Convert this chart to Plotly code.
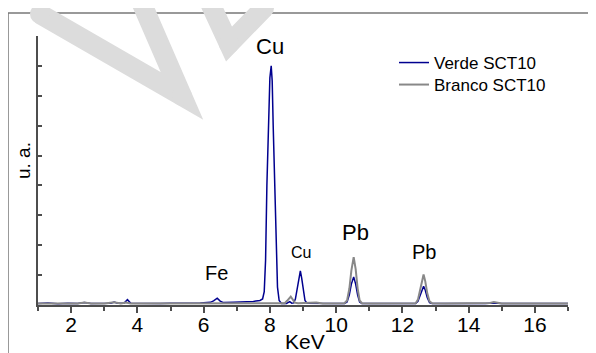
import plotly.graph_objects as go

# ---- data (keV, arbitrary units) ----
verde_kev = [1.0, 1.3, 1.6, 1.9, 2.2, 2.4, 2.6, 2.9, 3.2, 3.3, 3.4, 3.6, 3.7, 3.8,
             4.1, 4.4, 4.7, 5.0, 5.3, 5.6, 5.9, 6.2, 6.3, 6.41, 6.5, 6.6, 6.9, 7.2,
             7.5, 7.7, 7.78, 7.83, 7.87, 7.91, 7.96, 8.00, 8.04, 8.07, 8.10, 8.14,
             8.19, 8.23, 8.28, 8.35, 8.50, 8.60, 8.66, 8.72, 8.77, 8.82, 8.87, 8.92,
             8.96, 9.01, 9.06, 9.12, 9.4, 9.7, 10.0, 10.25, 10.33, 10.40, 10.46,
             10.53, 10.59, 10.65, 10.71, 10.78, 11.1, 11.5, 11.9, 12.2, 12.40, 12.47,
             12.54, 12.60, 12.64, 12.69, 12.75, 12.82, 12.90, 13.3, 13.7, 14.1, 14.5,
             14.76, 15.0, 15.5, 16.0, 16.5, 17.0]
verde_counts = [0.05, 0.07, 0.04, 0.06, 0.05, 0.08, 0.05, 0.06, 0.06, 0.10, 0.06, 0.07, 0.18, 0.06,
                0.05, 0.06, 0.05, 0.06, 0.05, 0.06, 0.07, 0.09, 0.14, 0.23, 0.13, 0.08, 0.09, 0.10,
                0.12, 0.15, 0.20, 0.45, 1.5, 4.0, 6.5, 7.6, 8.0, 7.5, 6.0, 4.0,
                1.8, 0.6, 0.15, 0.05, 0.05, 0.11, 0.06, 0.07, 0.2, 0.55, 0.95, 1.14,
                0.9, 0.45, 0.15, 0.06, 0.05, 0.05, 0.05, 0.05, 0.1, 0.35, 0.7,
                0.94, 0.7, 0.33, 0.1, 0.05, 0.05, 0.06, 0.05, 0.05, 0.05, 0.12,
                0.35, 0.57, 0.63, 0.5, 0.25, 0.08, 0.05, 0.05, 0.06, 0.05, 0.05,
                0.07, 0.05, 0.05, 0.05, 0.05, 0.05]

branco_kev = [1.0, 1.4, 1.8, 2.2, 2.4, 2.6, 3.0, 3.3, 3.5, 3.65, 3.8, 4.2, 4.6, 5.0,
              5.4, 5.8, 6.2, 6.4, 6.6, 7.0, 7.4, 7.8, 8.0, 8.2, 8.45, 8.52, 8.58,
              8.63, 8.68, 8.75, 8.85, 9.0, 9.2, 9.4, 9.6, 9.8, 10.0, 10.25, 10.33,
              10.40, 10.46, 10.53, 10.59, 10.65, 10.71, 10.78, 11.1, 11.5, 11.9,
              12.2, 12.40, 12.47, 12.54, 12.60, 12.64, 12.69, 12.75, 12.82, 12.90,
              13.3, 13.7, 14.1, 14.5, 14.65, 14.76, 14.88, 15.0, 15.5, 16.0, 16.5, 17.0]
branco_counts = [0.05, 0.05, 0.05, 0.05, 0.08, 0.05, 0.05, 0.09, 0.05, 0.08, 0.05, 0.05, 0.05, 0.05,
                 0.05, 0.05, 0.05, 0.07, 0.05, 0.05, 0.05, 0.05, 0.07, 0.05, 0.06, 0.14, 0.24,
                 0.28, 0.2, 0.08, 0.06, 0.07, 0.06, 0.08, 0.05, 0.05, 0.05, 0.06, 0.15,
                 0.55, 1.15, 1.6, 1.2, 0.55, 0.15, 0.06, 0.05, 0.05, 0.06,
                 0.05, 0.06, 0.18, 0.55, 0.9, 1.02, 0.8, 0.4, 0.12, 0.06,
                 0.05, 0.05, 0.05, 0.05, 0.07, 0.1, 0.07, 0.05, 0.05, 0.05, 0.05, 0.05]

series_names = ["Verde SCT10", "Branco SCT10"]
peak_labels = ["Cu", "Fe", "Cu", "Pb", "Pb"]
x_tick_values = [2, 4, 6, 8, 10, 12, 14, 16]
x_tick_labels = ["2", "4", "6", "8", "10", "12", "14", "16"]

FONT = "Arial, Liberation Sans, sans-serif"
AX = "#4d4d4d"

fig = go.Figure()
fig.add_trace(go.Scatter(x=verde_kev, y=verde_counts, mode="lines", name=series_names[0],
                         legend="legend",
                         line=dict(color="#00008f", width=1.5)))
fig.add_trace(go.Scatter(x=branco_kev, y=branco_counts, mode="lines", name=series_names[1],
                         legend="legend2",
                         line=dict(color="#888888", width=2)))

# peak labels (data coordinates)
label_pos = [(8.00, 8.66, 22), (6.40, 1.07, 20), (8.94, 1.76, 16), (10.57, 2.42, 22), (12.65, 1.79, 20)]
for txt, (lx, ly, fs) in zip(peak_labels, label_pos):
    fig.add_annotation(x=lx, y=ly, text=txt, showarrow=False, xref="x", yref="y",
                       xanchor="center", yanchor="middle",
                       font=dict(family=FONT, size=fs, color="black"))

# page has an 8px body margin: figure origin sits at page (8, 8)
OFF = 8
L, R, T, B = 38, 568, 36, 305   # plot area in page pixels


def px(x):
    return (x - L) / (R - L)


def py(y):
    return (B - y) / (B - T)


# axis titles
fig.add_annotation(x=px(305), y=py(342), xref="paper", yref="paper",
                   xanchor="center", yanchor="middle",
                   text="KeV", showarrow=False, font=dict(family=FONT, size=21, color="black"))
fig.add_annotation(x=px(23), y=py(161), xref="paper", yref="paper",
                   xanchor="center", yanchor="middle",
                   text="u. a.", textangle=-90, showarrow=False,
                   font=dict(family=FONT, size=19, color="black"))

shapes = []
# outer frame
shapes.append(dict(type="line", xref="paper", yref="paper", x0=px(8), y0=py(13), x1=px(600), y1=py(13),
                   line=dict(color="#777777", width=1.5), layer="above"))
shapes.append(dict(type="line", xref="paper", yref="paper", x0=px(8), y0=py(13), x1=px(8), y1=py(360),
                   line=dict(color="#777777", width=1.5), layer="above"))
# watermark strokes
WM = "#dcdcdc"
strokes = [[(40, 14), (182, 96), (136, -10)], [(204, -10), (229, 44), (264, 8)]]
for pts in strokes:
    path = "M " + " L ".join(f"{px(a):.4f},{py(b):.4f}" for a, b in pts)
    shapes.append(dict(type="path", xref="paper", yref="paper", path=path,
                       line=dict(color=WM, width=20), layer="above"))
    for a, b in pts:
        shapes.append(dict(type="circle", xref="paper", yref="paper",
                           x0=px(a - 10), x1=px(a + 10), y0=py(b + 10), y1=py(b - 10),
                           fillcolor=WM, line=dict(width=0), layer="above"))

legend_style = dict(xanchor="left", yanchor="top", bgcolor="rgba(0,0,0,0)",
                    font=dict(family=FONT, size=17, color="black"), itemwidth=30)

fig.update_layout(
    width=596 - OFF, height=353 - OFF,
    margin=dict(l=L - OFF, r=596 - R, t=T - OFF, b=353 - B),
    paper_bgcolor="white", plot_bgcolor="white",
    font=dict(family=FONT, color="black"),
    showlegend=True,
    legend=dict(x=px(394), y=py(45), **legend_style),
    legend2=dict(x=px(394), y=py(67), **legend_style),
    shapes=shapes,
    xaxis=dict(range=[1, 17], tickvals=x_tick_values, ticktext=x_tick_labels,
               showline=True, linecolor=AX, linewidth=1.5, ticks="outside",
               ticklen=6, tickwidth=1.5, tickcolor=AX, showgrid=False, zeroline=False,
               ticklabelstandoff=-6,
               tickfont=dict(family=FONT, size=21, color="black"),
               minor=dict(dtick=1, tick0=1, ticks="outside", ticklen=4, tickwidth=1.5,
                          tickcolor=AX, showgrid=False)),
    yaxis=dict(range=[0, 9], dtick=1, tick0=0, showline=True, linecolor=AX, linewidth=1.5,
               ticks="inside", ticklen=4, tickwidth=1.5, tickcolor=AX,
               showticklabels=False, showgrid=False, zeroline=False),
)

fig.write_html("out.html")
